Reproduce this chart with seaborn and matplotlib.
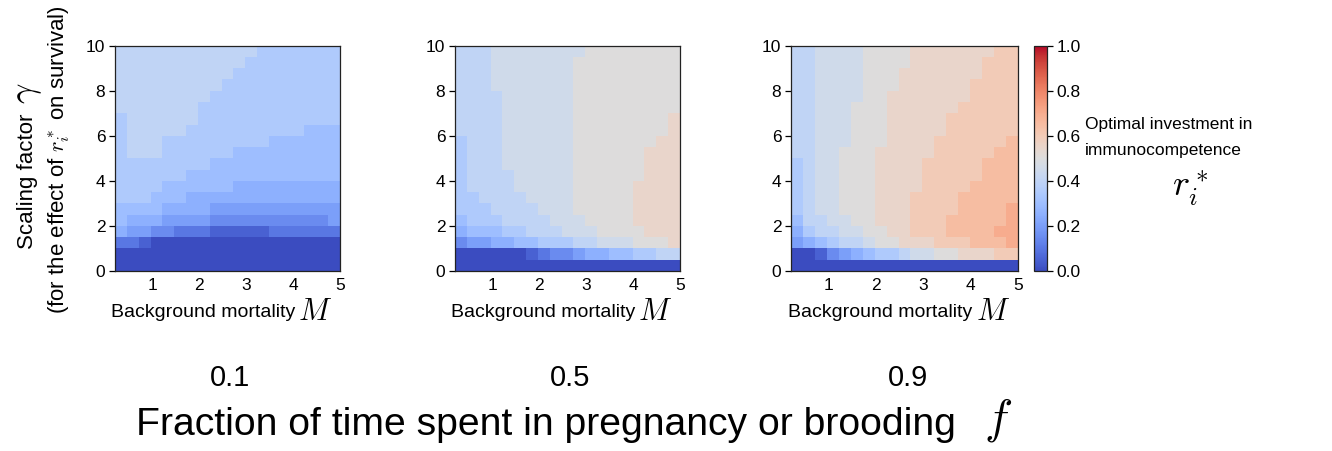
import numpy as np
import matplotlib
matplotlib.use("Agg")
import matplotlib.pyplot as plt
import seaborn as sns

# grid of the model runs: 19 values of M (0.2..5), 20 values of gamma (0..10)
M_min, M_max, n_M = 0.2, 5.0, 19
gamma_max, n_gamma = 10.0, 20
M_ticks = [1, 2, 3, 4, 5]
gamma_ticks = [0, 2, 4, 6, 8, 10]
cbar_ticks = [0.0, 0.2, 0.4, 0.6, 0.8, 1.0]
f_labels = ["0.1", "0.5", "0.9"]

# optimal r_i*, rows from gamma = 0 (bottom) to gamma = 10 (top), columns M = 0.2 .. 5
r_f01 = [
    [0] * 19,
    [0] * 19,
    [.1, .1, .05] + [0] * 16,
    [.25, .2, .2, .15, .15, .1, .1, .1, .05, .05, .05, .05, .05, .1, .1, .1, .1, .1, .1],
    [.3, .25, .25, .25, .2, .2, .2, .2, .15, .15, .15, .15, .15, .15, .15, .15, .15, .15, .2],
    [.3, .3, .3, .3, .25, .25, .25, .25, .2, .2, .2, .2, .2, .2, .2, .2, .2, .2, .2],
    [.35, .35, .35, .3, .3, .3, .25, .25, .25, .25, .25, .25, .25, .25, .25, .25, .25, .25, .25],
    [.35, .35, .35, .35, .3, .3, .3, .3, .3, .3, .25, .25, .25, .25, .25, .25, .25, .25, .25],
    [.35, .35, .35, .35, .35, .35, .3, .3, .3, .3, .3, .3, .3, .3, .3, .3, .3, .3, .3],
    [.35, .35, .35, .35, .35, .35, .35, .35, .3, .3, .3, .3, .3, .3, .3, .3, .3, .3, .3],
    [.35, .4, .4, .4, .35, .35, .35, .35, .35, .35, .3, .3, .3, .3, .3, .3, .3, .3, .3],
    [.35, .4, .4, .4, .35, .35, .35, .35, .35, .35, .35, .35, .35, .3, .3, .3, .3, .3, .3],
    [.35, .4, .4, .4, .4, .4, .35, .35, .35, .35, .35, .35, .35, .35, .35, .35, .3, .3, .3],
    [.35, .4, .4, .4, .4, .4, .4, .35, .35, .35, .35, .35, .35, .35, .35, .35, .35, .35, .35],
    [.4, .4, .4, .4, .4, .4, .4, .35, .35, .35, .35, .35, .35, .35, .35, .35, .35, .35, .35],
    [.4, .4, .4, .4, .4, .4, .4, .4, .35, .35, .35, .35, .35, .35, .35, .35, .35, .35, .35],
    [.4, .4, .4, .4, .4, .4, .4, .4, .4, .35, .35, .35, .35, .35, .35, .35, .35, .35, .35],
    [.4, .4, .4, .4, .4, .4, .4, .4, .4, .4, .35, .35, .35, .35, .35, .35, .35, .35, .35],
    [.4, .4, .4, .4, .4, .4, .4, .4, .4, .4, .4, .35, .35, .35, .35, .35, .35, .35, .35],
    [.4, .4, .4, .4, .4, .4, .4, .4, .4, .4, .4, .4, .35, .35, .35, .35, .35, .35, .35],
]

r_f05 = [
    [0] * 19,
    [0, 0, 0, 0, 0, 0, .05, .1, .15, .15, .2, .25, .25, .3, .3, .35, .35, .4, .4],
    [.15, .2, .2, .25, .25, .3, .3, .35, .35, .35, .4, .4, .45, .45, .45, .5, .5, .5, .55],
    [.25, .3, .3, .3, .35, .35, .4, .4, .4, .45, .45, .45, .5, .5, .5, .5, .55, .55, .55],
    [.3, .35, .35, .35, .4, .4, .4, .4, .45, .45, .45, .5, .5, .5, .5, .55, .55, .55, .55],
    [.35, .35, .35, .4, .4, .4, .4, .45, .45, .45, .5, .5, .5, .5, .5, .55, .55, .55, .55],
    [.35, .35, .4, .4, .4, .4, .45, .45, .45, .45, .5, .5, .5, .5, .5, .55, .55, .55, .55],
    [.35, .4, .4, .4, .4, .45, .45, .45, .45, .45, .5, .5, .5, .5, .5, .55, .55, .55, .55],
    [.35, .4, .4, .4, .4, .45, .45, .45, .45, .45, .5, .5, .5, .5, .5, .5, .55, .55, .55],
    [.35, .4, .4, .4, .45, .45, .45, .45, .45, .45, .5, .5, .5, .5, .5, .5, .55, .55, .55],
    [.35, .4, .4, .4, .45, .45, .45, .45, .45, .45, .5, .5, .5, .5, .5, .5, .55, .55, .55],
    [.35, .4, .4, .4, .45, .45, .45, .45, .45, .45, .5, .5, .5, .5, .5, .5, .5, .55, .55],
    [.4, .4, .4, .4, .45, .45, .45, .45, .45, .45, .5, .5, .5, .5, .5, .5, .5, .5, .55],
    [.4, .4, .4, .4, .45, .45, .45, .45, .45, .45, .5, .5, .5, .5, .5, .5, .5, .5, .55],
    [.4, .4, .4, .4, .45, .45, .45, .45, .45, .45, .5, .5, .5, .5, .5, .5, .5, .5, .5],
    [.4, .4, .4, .4, .45, .45, .45, .45, .45, .45, .5, .5, .5, .5, .5, .5, .5, .5, .5],
    [.4, .4, .4, .45, .45, .45, .45, .45, .45, .45, .5, .5, .5, .5, .5, .5, .5, .5, .5],
    [.4, .4, .4, .45, .45, .45, .45, .45, .45, .45, .5, .5, .5, .5, .5, .5, .5, .5, .5],
    [.4, .4, .4, .45, .45, .45, .45, .45, .45, .45, .5, .5, .5, .5, .5, .5, .5, .5, .5],
    [.4, .4, .4, .45, .45, .45, .45, .45, .45, .45, .45, .5, .5, .5, .5, .5, .5, .5, .5],
]

r_f09 = [
    [0] * 19,
    [0, 0, .05, .15, .2, .25, .3, .35, .35, .4, .45, .45, .5, .5, .55, .55, .55, .6, .6],
    [.2, .25, .3, .35, .4, .4, .45, .5, .5, .55, .55, .55, .6, .6, .6, .65, .65, .65, .7],
    [.25, .35, .4, .4, .45, .45, .5, .5, .55, .55, .6, .6, .6, .65, .65, .65, .65, .7, .7],
    [.3, .4, .4, .45, .45, .5, .5, .55, .55, .55, .6, .6, .6, .65, .65, .65, .65, .65, .7],
    [.35, .4, .45, .45, .5, .5, .5, .55, .55, .55, .6, .6, .6, .6, .65, .65, .65, .65, .7],
    [.35, .4, .45, .45, .5, .5, .5, .55, .55, .55, .6, .6, .6, .6, .65, .65, .65, .65, .65],
    [.35, .4, .45, .45, .5, .5, .5, .55, .55, .55, .55, .6, .6, .6, .6, .65, .65, .65, .65],
    [.35, .4, .45, .45, .5, .5, .5, .55, .55, .55, .55, .6, .6, .6, .6, .6, .65, .65, .65],
    [.35, .4, .45, .45, .5, .5, .5, .55, .55, .55, .55, .6, .6, .6, .6, .6, .65, .65, .65],
    [.4, .4, .45, .45, .5, .5, .5, .55, .55, .55, .55, .55, .6, .6, .6, .6, .6, .65, .65],
    [.4, .4, .45, .45, .45, .5, .5, .5, .55, .55, .55, .55, .6, .6, .6, .6, .6, .6, .65],
    [.4, .4, .45, .45, .45, .5, .5, .5, .55, .55, .55, .55, .55, .6, .6, .6, .6, .6, .6],
    [.4, .4, .45, .45, .45, .5, .5, .5, .55, .55, .55, .55, .55, .6, .6, .6, .6, .6, .6],
    [.4, .4, .45, .45, .45, .5, .5, .5, .55, .55, .55, .55, .55, .55, .6, .6, .6, .6, .6],
    [.4, .4, .45, .45, .45, .45, .5, .5, .55, .55, .55, .55, .55, .55, .55, .6, .6, .6, .6],
    [.4, .4, .45, .45, .45, .45, .5, .5, .5, .55, .55, .55, .55, .55, .55, .6, .6, .6, .6],
    [.4, .4, .45, .45, .45, .45, .5, .5, .5, .55, .55, .55, .55, .55, .55, .55, .6, .6, .6],
    [.4, .4, .45, .45, .45, .45, .5, .5, .5, .5, .55, .55, .55, .55, .55, .55, .6, .6, .6],
    [.4, .4, .45, .45, .45, .45, .5, .5, .5, .5, .55, .55, .55, .55, .55, .55, .55, .6, .6],
]

sns.set_style("white")
plt.rcParams['font.family'] = ['Liberation Sans', 'DejaVu Sans']
plt.rcParams['mathtext.fontset'] = 'cm'
for key in ['text.color', 'axes.labelcolor', 'xtick.color', 'ytick.color']:
    plt.rcParams[key] = 'black'

W, H = 1332, 451
fig = plt.figure(figsize=(W / 100, H / 100), dpi=100)


def box(x0, y0, x1, y1):
    # pixel box (top-left origin) -> figure fraction rect
    return [x0 / W, 1 - y1 / H, (x1 - x0) / W, (y1 - y0) / H]


def px(x, y):
    return x / W, 1 - y / H


ax_boxes = [box(115, 45.7, 340, 271), box(455, 45.7, 680, 271), box(791, 45.7, 1018, 271)]
cax = fig.add_axes(box(1034, 45.7, 1047, 271))

cbar = None
for k, (data, rect) in enumerate(zip([r_f01, r_f05, r_f09], ax_boxes)):
    ax = fig.add_axes(rect)
    last = k == 2
    sns.heatmap(np.flipud(np.array(data, dtype=float)), ax=ax, cmap='coolwarm',
                vmin=0, vmax=1, cbar=last, cbar_ax=cax if last else None,
                xticklabels=False, yticklabels=False, linewidths=0)
    if last:
        cbar = ax.collections[0].colorbar
    for s in ax.spines.values():
        s.set_visible(True)
        s.set_color('#222222')
        s.set_linewidth(0.9)
    dx = (M_max - M_min) / n_M
    dy = gamma_max / n_gamma
    ax.set_xticks([(m - M_min) / dx for m in M_ticks])
    ax.set_xticklabels([str(m) for m in M_ticks])
    ax.set_yticks([(gamma_max - g) / dy for g in gamma_ticks])
    ax.set_yticklabels([str(g) for g in gamma_ticks], rotation=0)
    ax.tick_params(axis='x', bottom=False, length=0, pad=5, labelsize=12.5)
    ax.tick_params(axis='y', left=True, length=4, width=0.9, pad=3, labelsize=12.5)

    # x label with a large math M
    ax.text(0.80, -0.185, "Background mortality", transform=ax.transAxes,
            ha='right', va='center', fontsize=14)
    ax.text(0.815, -0.18, "$M$", transform=ax.transAxes,
            ha='left', va='center', fontsize=22)

cbar.set_ticks(cbar_ticks)
cbar.set_ticklabels([f"{t:.1f}" for t in cbar_ticks])
cbar.outline.set_visible(True)
cbar.outline.set_linewidth(0.9)
cbar.outline.set_edgecolor('#222222')
cax.tick_params(right=True, length=4, width=0.9, labelsize=12.5, pad=3)

fig.text(*px(1085, 125), "Optimal investment in", ha='left', va='center', fontsize=12.5)
fig.text(*px(1085, 151), "immunocompetence", ha='left', va='center', fontsize=12.5)
fig.text(*px(1190, 188), "$r_i^*$", ha='center', va='center', fontsize=26)

# y label, two lines, rotated
fig.text(*px(27, 249), "Scaling factor", rotation=90, ha='center', va='bottom',
         fontsize=16)
fig.text(*px(27, 93), r"$\gamma$", rotation=90, ha='center', va='center', fontsize=26)
fig.text(*px(59, 160), "(for the effect of $r_i^*$ on survival)", rotation=90,
         ha='center', va='center', fontsize=16)

# f values under each panel and the overall caption
for lab, xc in zip(f_labels, [230, 570, 908]):
    fig.text(*px(xc, 378), lab, ha='center', va='center', fontsize=21)
fig.text(*px(956, 425), "Fraction of time spent in pregnancy or brooding",
         ha='right', va='center', fontsize=28.2)
fig.text(*px(998, 420), "$f$", ha='center', va='center', fontsize=34)

fig.savefig("out.png", dpi=100)
